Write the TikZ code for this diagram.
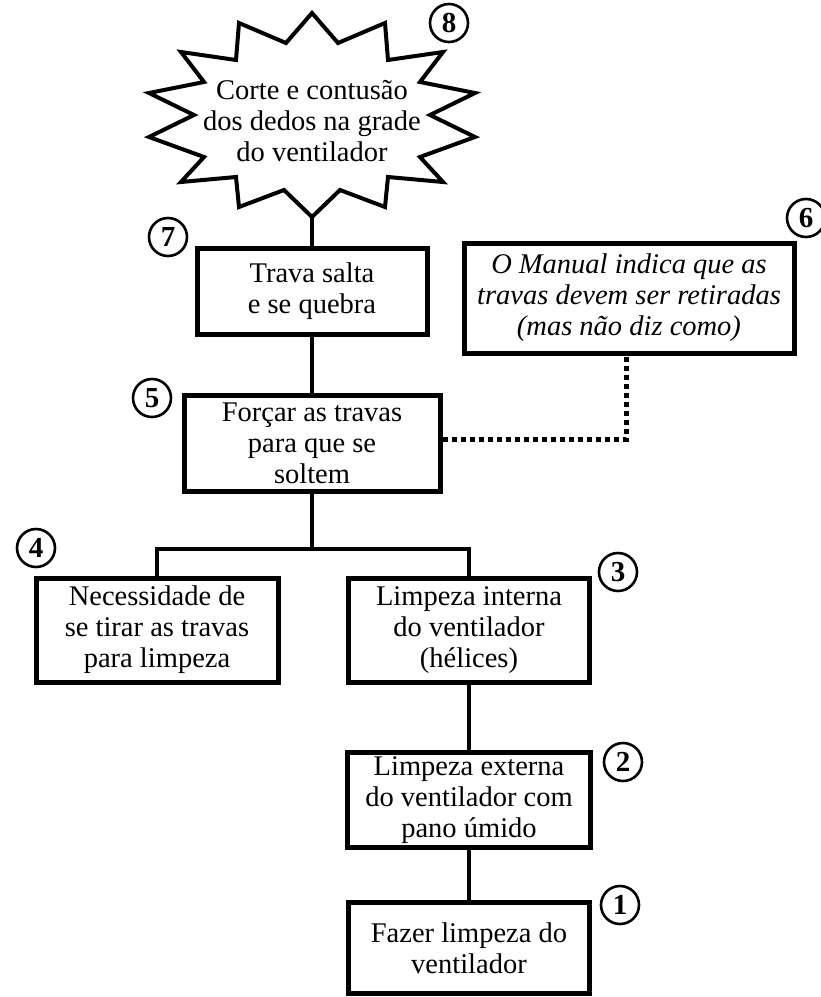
\documentclass[tikz,border=0pt]{standalone}
\usepackage{fontspec}
\setmainfont{Liberation Serif}
\begin{document}
\begin{tikzpicture}[x=1pt,y=-1pt,
  box/.style={draw,line width=5pt,align=center,inner sep=0pt,font=\fontsize{28.5}{31}\selectfont},
  num/.style={draw,circle,line width=2.6pt,minimum size=38pt,inner sep=0pt,font=\fontsize{29}{29}\selectfont\bfseries},
  conn/.style={line width=4.8pt},
  dots/.style={line width=5pt,dash pattern=on 5pt off 4pt},
  burst/.style={draw,line width=4pt,line join=miter}]
\useasboundingbox (0,0) rectangle (821,997);
% starburst
\draw[burst] (312,13) -- (338,43) -- (385,23) -- (388,60) -- (443,52) -- (420,82)
  -- (475,93) -- (430,115) -- (475,137) -- (420,157) -- (443,182) -- (388,177)
  -- (385,207) -- (340,190) -- (312,217) -- (284,190) -- (239,207) -- (236,177)
  -- (181,182) -- (204,157) -- (149,137) -- (194,115) -- (149,93) -- (204,82)
  -- (181,52) -- (236,60) -- (239,23) -- (286,43) -- cycle;
\node[align=center,inner sep=0pt,font=\fontsize{28.5}{31}\selectfont] (star) at (312,121)
  {Corte e contusão\\dos dedos na grade\\do ventilador};
\coordinate (starbot) at (312,217);
% boxes
\node[box,minimum width=230pt,minimum height=86pt] (b7) at (312,291) {Trava salta\\e se quebra};
\node[box,minimum width=330pt,minimum height=110pt,font=\fontsize{28.5}{31}\selectfont\itshape] (b6) at (629,298)
  {O Manual indica que as\\travas devem ser retiradas\\(mas não diz como)};
\node[box,minimum width=256pt,minimum height=96pt] (b5) at (312,443) {Forçar as travas\\para que se\\soltem};
\node[box,minimum width=242pt,minimum height=104pt] (b4) at (157,630) {Necessidade de\\se tirar as travas\\para limpeza};
\node[box,minimum width=241pt,minimum height=104pt] (b3) at (469,630) {Limpeza interna\\do ventilador\\(hélices)};
\node[box,minimum width=243pt,minimum height=95pt] (b2) at (469,800) {Limpeza externa\\do ventilador com\\pano úmido};
\node[box,minimum width=241pt,minimum height=91pt] (b1) at (469,948) {Fazer limpeza do\\ventilador};
% numbers
\node[num] (n8) at (449,23) {8};
\node[num] (n7) at (168,237) {7};
\node[num] (n6) at (806,218) {6};
\node[num] (n5) at (152,398) {5};
\node[num] (n4) at (36,548) {4};
\node[num] (n3) at (618,572) {3};
\node[num] (n2) at (623,762) {2};
\node[num] (n1) at (620,905) {1};
% connectors
\draw[conn] (starbot) -- (b7.north);
\draw[conn] (b7.south) -- (b5.north);
\coordinate (j) at (312,549);
\draw[conn] (b5.south) -- (j);
\draw[conn,line join=miter] (b4.north) |- (j) -| (b3.north);
\draw[conn] (b3.south) -- (b2.north);
\draw[conn] (b2.south) -- (b1.north);
\coordinate (dc) at (626,439);
\draw[dots] (b5.east |- dc) -- (dc) -- (b6.south -| dc);
\end{tikzpicture}
\end{document}
